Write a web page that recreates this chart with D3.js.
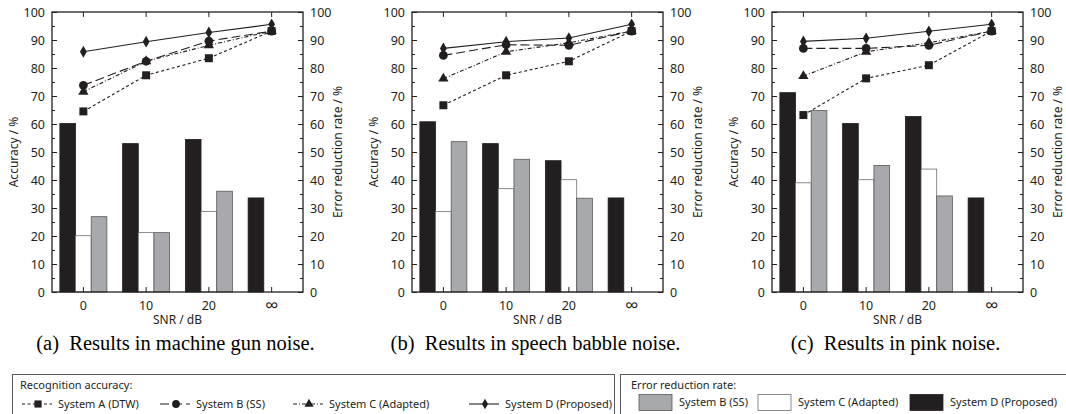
<!DOCTYPE html>
<html>
<head>
<meta charset="utf-8">
<script src="https://cdn.jsdelivr.net/npm/d3@7"></script>
<style>
  body { margin: 0; background: #fff; }
  svg { display: block; }
</style>
</head>
<body>
<div id="container"></div>
<script>
/* DATA */
const snrLabels = ["0", "10", "20", "∞"];

// (a) machine gun noise
const gunAccA = [64.5, 77.4, 83.5, 93.2];
const gunAccB = [73.8, 82.4, 89.6, 93.2];
const gunAccC = [71.5, 82.4, 88.1, 93.2];
const gunAccD = [85.8, 89.4, 92.7, 95.6];
const gunErrB = [26.9, 21.2, 36.0, null];
const gunErrC = [20.1, 21.2, 28.8, null];
const gunErrD = [60.2, 53.0, 54.5, 33.6];

// (b) speech babble noise
const babbleAccA = [66.7, 77.4, 82.4, 93.2];
const babbleAccB = [84.5, 88.3, 88.1, 93.2];
const babbleAccC = [76.2, 85.8, 89.0, 93.2];
const babbleAccD = [87.0, 89.4, 90.7, 95.6];
const babbleErrB = [53.7, 47.4, 33.5, null];
const babbleErrC = [28.7, 36.9, 40.1, null];
const babbleErrD = [60.8, 53.0, 46.9, 33.6];

// (c) pink noise
const pinkAccA = [63.2, 76.3, 81.0, 93.2];
const pinkAccB = [87.0, 87.0, 88.1, 93.2];
const pinkAccC = [77.1, 85.8, 89.0, 93.2];
const pinkAccD = [89.5, 90.6, 93.1, 95.6];
const pinkErrB = [64.8, 45.2, 34.3, null];
const pinkErrC = [39.0, 40.1, 43.9, null];
const pinkErrD = [71.2, 60.2, 62.7, 33.6];

const captions = ["(a)  Results in machine gun noise.", "(b)  Results in speech babble noise.", "(c)  Results in pink noise."];

/* CONSTANTS */
const width = 1066, height = 414;
const plotW = 251, plotH = 280, plotTop = 12;
const panelLeft = [52, 412, 772];
const sans = "'Noto Sans', 'Open Sans', sans-serif";
const serif = "'Liberation Serif', 'DejaVu Serif', serif";

const barFill = { B: "#a7a9ac", C: "#ffffff", D: "#231f20" };
const barStroke = { B: "#58595b", C: "#6d6e71", D: "#231f20" };
const lineDash = { A: "3,2.5", B: "9,4", C: "4,2,1,2", D: null };
const markerType = { A: d3.symbolSquare, B: d3.symbolCircle, C: d3.symbolTriangle, D: d3.symbolDiamond };
const markerSize = { A: 64, B: 60, C: 46, D: 40 };

const svg = d3.select("#container").append("svg")
  .attr("width", width).attr("height", height);

const panels = [
  { acc: { A: gunAccA, B: gunAccB, C: gunAccC, D: gunAccD }, err: { D: gunErrD, C: gunErrC, B: gunErrB } },
  { acc: { A: babbleAccA, B: babbleAccB, C: babbleAccC, D: babbleAccD }, err: { D: babbleErrD, C: babbleErrC, B: babbleErrB } },
  { acc: { A: pinkAccA, B: pinkAccB, C: pinkAccC, D: pinkAccD }, err: { D: pinkErrD, C: pinkErrC, B: pinkErrB } }
];

// SCALES
const xScale = d3.scaleBand().domain(snrLabels).range([0, plotW]);
const barScale = d3.scaleBand().domain(["D", "C", "B"]).range([-23.5, 23.5]);
const yScale = d3.scaleLinear().domain([0, 100]).range([plotH, 0]);
const xc = d => xScale(d) + xScale.bandwidth() / 2;

panels.forEach((p, i) => {
  const g = svg.append("g").attr("transform", `translate(${panelLeft[i]},${plotTop})`);

  // BARS
  ["D", "C", "B"].forEach(s => {
    g.selectAll(null)
      .data(p.err[s].map((v, j) => ({ v, cat: snrLabels[j] })).filter(d => d.v != null))
      .join("rect")
      .attr("x", d => xc(d.cat) + barScale(s))
      .attr("width", barScale.bandwidth())
      .attr("y", d => yScale(d.v))
      .attr("height", d => plotH - yScale(d.v))
      .attr("fill", barFill[s])
      .attr("stroke", barStroke[s])
      .attr("stroke-width", 0.8);
  });

  // LINES
  const lineGen = d3.line().x((d, j) => xc(snrLabels[j])).y(d => yScale(d));
  ["A", "C", "B", "D"].forEach(s => {
    g.append("path")
      .attr("d", lineGen(p.acc[s]))
      .attr("fill", "none")
      .attr("stroke", "#231f20")
      .attr("stroke-width", 1.1)
      .attr("stroke-dasharray", lineDash[s]);
    g.selectAll(null)
      .data(p.acc[s])
      .join("path")
      .attr("transform", (d, j) => `translate(${xc(snrLabels[j])},${yScale(d)})`)
      .attr("d", d3.symbol().type(markerType[s]).size(markerSize[s]))
      .attr("fill", "#231f20");
  });

  // AXES
  const ticks = d3.range(0, 101, 10);
  const minor = d3.range(5, 100, 10);
  const left = g.append("g").call(d3.axisLeft(yScale).tickValues(ticks).tickSize(-5).tickPadding(7));
  const right = g.append("g").attr("transform", `translate(${plotW},0)`)
    .call(d3.axisRight(yScale).tickValues(ticks).tickSize(-5).tickPadding(7));
  g.append("g").call(d3.axisLeft(yScale).tickValues(minor).tickSize(-3).tickFormat(""));
  g.append("g").attr("transform", `translate(${plotW},0)`)
    .call(d3.axisRight(yScale).tickValues(minor).tickSize(-3).tickFormat(""));
  const bottom = g.append("g").attr("transform", `translate(0,${plotH})`)
    .call(d3.axisBottom(xScale).tickSize(-5).tickPadding(9));
  g.append("g").call(d3.axisTop(xScale).tickSize(-5).tickFormat(""));

  g.selectAll(".domain").remove();
  g.selectAll(".tick line").attr("stroke", "#231f20");
  [left, right, bottom].forEach(a => a.selectAll("text").attr("font-size", 12.5).attr("fill", "#231f20").attr("font-family", sans));
  bottom.selectAll("text").filter(d => d === "∞").attr("font-size", 19).attr("dy", "0.6em");

  g.append("rect")
    .attr("width", plotW).attr("height", plotH)
    .attr("fill", "none").attr("stroke", "#231f20").attr("stroke-width", 1.3);

  // AXIS LABELS
  g.append("text")
    .attr("transform", `translate(-34,${plotH / 2}) rotate(-90)`)
    .attr("text-anchor", "middle").attr("font-size", 12).attr("font-family", sans).attr("fill", "#231f20")
    .text("Accuracy / %");
  g.append("text")
    .attr("transform", `translate(${plotW + 39},${plotH / 2}) rotate(-90)`)
    .attr("text-anchor", "middle").attr("font-size", 12).attr("font-family", sans).attr("fill", "#231f20")
    .text("Error reduction rate / %");
  g.append("text")
    .attr("x", plotW / 2).attr("y", plotH + 32)
    .attr("text-anchor", "middle").attr("font-size", 12).attr("font-family", sans).attr("fill", "#231f20")
    .text("SNR / dB");
  g.append("text")
    .attr("x", plotW / 2 - 2).attr("y", plotH + 58)
    .attr("text-anchor", "middle").attr("font-size", 20.5)
    .attr("font-family", serif).attr("fill", "#000")
    .attr("xml:space", "preserve")
    .text(captions[i]);
});

// LEGENDS
const legendSeries = ["A", "B", "C", "D"];
const legendNames = { A: "System A (DTW)", B: "System B (SS)", C: "System C (Adapted)", D: "System D (Proposed)" };
const accLegendX = [22, 160, 293, 469];
const errLegendX = [639, 758, 910];

const lg1 = svg.append("g").attr("font-family", sans);
lg1.append("rect").attr("x", 12.5).attr("y", 374.5).attr("width", 602).attr("height", 45)
  .attr("fill", "none").attr("stroke", "#58595b").attr("stroke-width", 1);
lg1.append("text").attr("x", 20).attr("y", 389).attr("font-size", 11).attr("fill", "#231f20")
  .text("Recognition accuracy:");
legendSeries.forEach((s, k) => {
  const x0 = accLegendX[k], y0 = 404;
  lg1.append("line").attr("x1", x0).attr("x2", x0 + 30).attr("y1", y0).attr("y2", y0)
    .attr("stroke", "#231f20").attr("stroke-width", 1.1).attr("stroke-dasharray", lineDash[s]);
  lg1.append("path").attr("transform", `translate(${x0 + 16},${y0})`)
    .attr("d", d3.symbol().type(markerType[s]).size(markerSize[s] * 0.8)).attr("fill", "#231f20");
  lg1.append("text").attr("x", x0 + 36).attr("y", y0 + 4).attr("font-size", 11).attr("fill", "#231f20")
    .text(legendNames[s]);
});

const lg2 = svg.append("g").attr("font-family", sans);
lg2.append("rect").attr("x", 620.5).attr("y", 374.5).attr("width", 460).attr("height", 45)
  .attr("fill", "none").attr("stroke", "#58595b").attr("stroke-width", 1);
lg2.append("text").attr("x", 631).attr("y", 389).attr("font-size", 11).attr("fill", "#231f20")
  .text("Error reduction rate:");
["B", "C", "D"].forEach((s, k) => {
  const x0 = errLegendX[k];
  lg2.append("rect").attr("x", x0).attr("y", 394.5).attr("width", 33).attr("height", 16)
    .attr("fill", barFill[s]).attr("stroke", barStroke[s]).attr("stroke-width", 0.8);
  lg2.append("text").attr("x", x0 + 40).attr("y", 406).attr("font-size", 11).attr("fill", "#231f20")
    .text(legendNames[s]);
});
</script>
</body>
</html>
